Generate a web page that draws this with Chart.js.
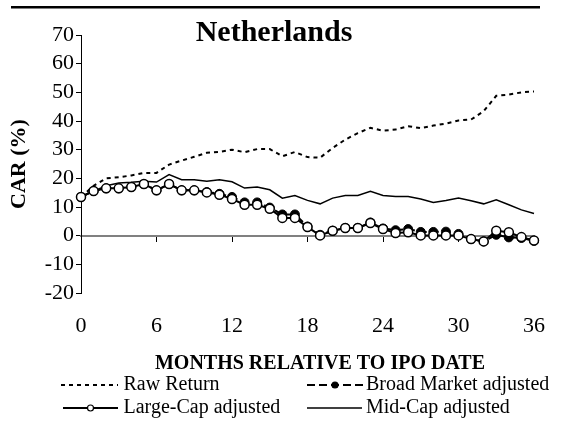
<!DOCTYPE html>
<html>
<head>
<meta charset="utf-8">
<script src="https://cdn.jsdelivr.net/npm/chart.js@4"></script>
<style>
  html, body { margin: 0; padding: 0; background: #fff; }
  #wrap { width: 565px; height: 421px; position: relative; }
</style>
</head>
<body>
<div id="wrap"><canvas id="chart" width="565" height="421"></canvas></div>
<script>
const months = [0, 1, 2, 3, 4, 5, 6, 7, 8, 9, 10, 11, 12, 13, 14, 15, 16, 17, 18,
  19, 20, 21, 22, 23, 24, 25, 26, 27, 28, 29, 30, 31, 32, 33, 34, 35, 36];
const monthLabels = [0, 6, 12, 18, 24, 30, 36];
const monthMarks = [6, 12, 18, 24, 30];

const rawReturn = [13.5, 17.4, 20.0, 20.4, 21.0, 21.9, 21.9, 24.8, 26.2, 27.5, 28.9, 29.2,
  30.0, 29.1, 30.2, 30.2, 27.7, 29.2, 27.4, 27.2, 30.6, 33.5, 35.8, 37.6, 36.6,
  37.0, 38.2, 37.5, 38.4, 39.1, 40.2, 40.5, 43.4, 48.8, 49.2, 50.0, 50.3];
const broadMarket = [13.5, 15.6, 16.5, 16.5, 17.0, 18.0, 15.8, 18.0, 15.8, 15.8, 15.2, 14.6,
  13.5, 11.6, 11.6, 9.8, 7.4, 7.4, 3.2, 0.3, 1.7, 2.7, 2.7, 4.6, 2.5,
  1.9, 2.3, 1.3, 1.3, 1.4, 0.6, -1.2, -2.0, 0.3, -0.6, -0.8, -1.8];
const largeCap = [13.5, 15.6, 16.5, 16.5, 17.0, 18.0, 15.8, 18.0, 15.8, 15.8, 15.1, 14.3,
  12.8, 10.8, 10.8, 9.4, 6.2, 6.2, 3.0, 0.1, 1.7, 2.7, 2.7, 4.4, 2.3,
  0.9, 1.2, 0.1, 0.1, 0.1, 0.1, -1.2, -2.0, 1.7, 1.2, -0.5, -1.7];
const midCap = [13.5, 15.5, 17.4, 18.4, 18.6, 19.0, 18.7, 21.3, 19.5, 19.5, 19.0, 19.5,
  18.8, 16.6, 17.0, 16.0, 13.1, 14.0, 12.3, 11.1, 13.1, 14.0, 14.0, 15.5, 14.0,
  13.7, 13.7, 12.8, 11.6, 12.3, 13.1, 12.2, 11.1, 12.5, 10.8, 9.0, 7.7];

const SERIF = '"Liberation Serif", "Times New Roman", serif';
Chart.defaults.font.family = SERIF;
Chart.defaults.color = '#000';

const toPoints = vals => months.map((m, i) => ({ x: m, y: vals[i] }));

const decor = {
  id: 'decor',
  afterDraw(chart) {
    const ctx = chart.ctx;
    const ds = chart.data.datasets;
    ctx.save();
    // rule at the top of the page
    ctx.strokeStyle = '#000';
    ctx.lineWidth = 2.5;
    ctx.beginPath();
    ctx.moveTo(11, 7.2);
    ctx.lineTo(540, 7.2);
    ctx.stroke();

    ctx.fillStyle = '#000';
    ctx.textAlign = 'center';
    ctx.textBaseline = 'alphabetic';
    ctx.font = 'bold 30px ' + SERIF;
    ctx.fillText('Netherlands', 274, 40.5);
    ctx.font = 'bold 20px ' + SERIF;
    ctx.fillText('MONTHS RELATIVE TO IPO DATE', 320, 369);

    // legend, two columns
    const items = [
      { i: 0, x1: 61, x2: 118, y: 385, tx: 123.5 },
      { i: 1, x1: 307, x2: 363, y: 385, tx: 366 },
      { i: 2, x1: 63, x2: 118, y: 408, tx: 123.5 },
      { i: 3, x1: 307, x2: 362, y: 408, tx: 366 }
    ];
    ctx.font = '20px ' + SERIF;
    ctx.textAlign = 'left';
    ctx.textBaseline = 'middle';
    items.forEach(it => {
      const d = ds[it.i];
      ctx.strokeStyle = d.borderColor;
      ctx.lineWidth = d.borderWidth;
      ctx.setLineDash(d.borderDash || []);
      ctx.beginPath();
      ctx.moveTo(it.x1, it.y);
      ctx.lineTo(it.x2, it.y);
      ctx.stroke();
      ctx.setLineDash([]);
      if (d.pointRadius > 0) {
        ctx.beginPath();
        ctx.arc((it.x1 + it.x2) / 2, it.y, 3, 0, Math.PI * 2);
        ctx.fillStyle = d.pointBackgroundColor;
        ctx.fill();
        ctx.lineWidth = 1.2;
        ctx.strokeStyle = d.pointBorderColor;
        ctx.stroke();
      }
      ctx.fillStyle = '#000';
      ctx.fillText(d.label, it.tx, it.y);
    });
    ctx.restore();
  }
};

new Chart(document.getElementById('chart'), {
  type: 'line',
  data: {
    datasets: [
      {
        label: 'Raw Return',
        data: toPoints(rawReturn),
        borderColor: '#000',
        borderWidth: 2,
        borderDash: [4, 4],
        pointRadius: 0,
        order: 2,
        clip: false
      },
      {
        label: 'Broad Market adjusted',
        data: toPoints(broadMarket),
        borderColor: '#000',
        borderWidth: 2,
        borderDash: [8, 4],
        pointRadius: 4.5,
        pointBackgroundColor: '#000',
        pointBorderColor: '#000',
        pointBorderWidth: 1,
        order: 1,
        clip: false
      },
      {
        label: 'Large-Cap adjusted',
        data: toPoints(largeCap),
        borderColor: '#000',
        borderWidth: 2,
        pointRadius: 4.5,
        pointBackgroundColor: '#fff',
        pointBorderColor: '#000',
        pointBorderWidth: 1.5,
        order: 0,
        clip: false
      },
      {
        label: 'Mid-Cap adjusted',
        data: toPoints(midCap),
        borderColor: '#000',
        borderWidth: 1.5,
        pointRadius: 0,
        order: 3,
        clip: false
      }
    ]
  },
  options: {
    responsive: false,
    animation: false,
    layout: { padding: { left: 0, right: 27, top: 35, bottom: 0 } },
    plugins: {
      legend: { display: false },
      title: { display: false },
      tooltip: { enabled: false }
    },
    scales: {
      x: {
        type: 'linear',
        min: 0,
        max: 36,
        position: { y: 0 },
        afterBuildTicks: s => { s.ticks = monthMarks.map(v => ({ value: v })); },
        ticks: { display: false },
        grid: { drawOnChartArea: false, drawTicks: true, tickLength: 5, color: '#000', lineWidth: 1 },
        border: { display: true, color: '#808080', width: 2 }
      },
      x2: {
        type: 'linear',
        position: 'bottom',
        min: 0,
        max: 36,
        afterBuildTicks: s => { s.ticks = monthLabels.map(v => ({ value: v })); },
        afterFit: s => { s.height = 128; },
        ticks: { font: { size: 22 }, color: '#000', padding: 20, maxRotation: 0, autoSkip: false },
        grid: { display: false, drawTicks: false },
        border: { display: false }
      },
      y: {
        min: -20,
        max: 70,
        afterFit: s => { s.width = 81; },
        ticks: { stepSize: 10, font: { size: 22 }, color: '#000', padding: 2, autoSkip: false },
        grid: { drawOnChartArea: false, drawTicks: true, tickLength: 5, color: '#000' },
        border: { display: true, color: '#000', width: 1 },
        title: {
          display: true,
          text: 'CAR (%)',
          font: { size: 22, weight: 'bold' },
          color: '#000',
          padding: { top: 6, bottom: 0 }
        }
      }
    }
  },
  plugins: [decor]
});
</script>
</body>
</html>
